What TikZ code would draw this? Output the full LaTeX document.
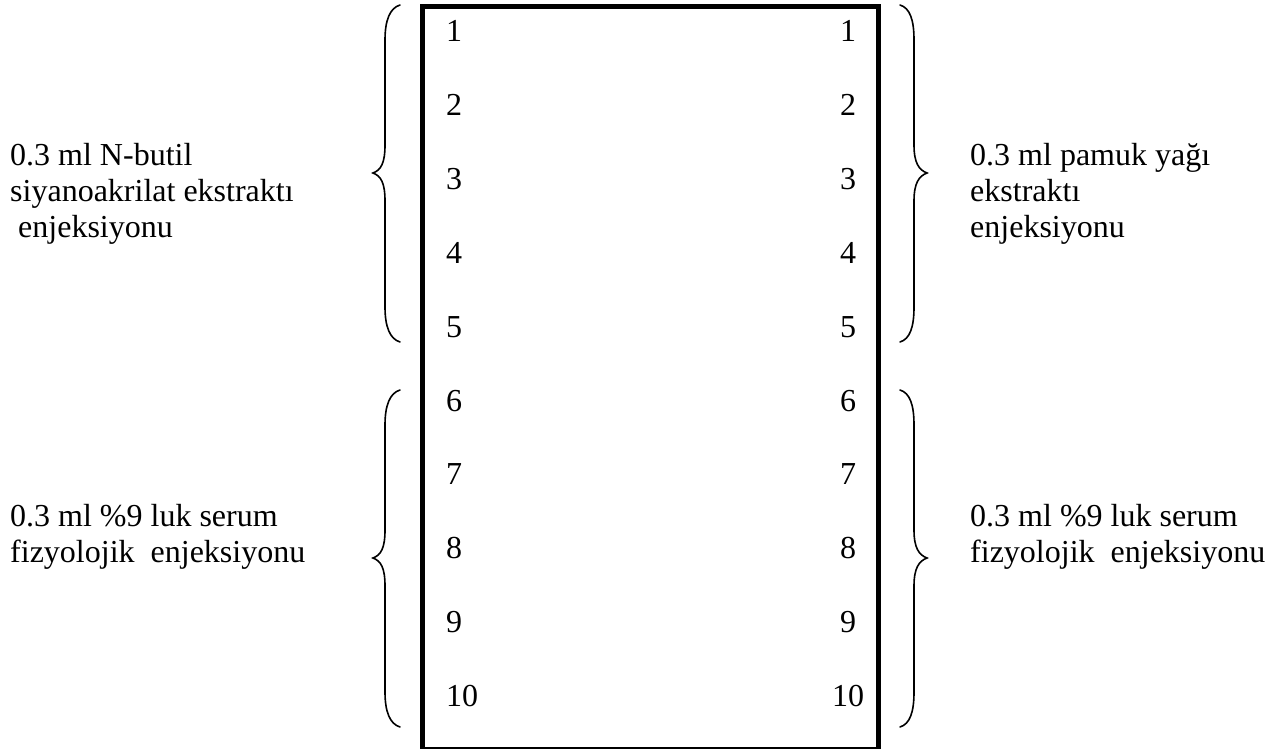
\documentclass[tikz,border=0pt]{standalone}
\usepackage{fontspec}
\setmainfont{Liberation Serif}
\begin{document}
\begin{tikzpicture}[x=1pt,y=-1pt,
  every node/.style={inner sep=0pt,font=\fontsize{32}{36}\selectfont},
  lbl/.style={anchor=base west,align=left},
  numl/.style={anchor=base west},
  numr/.style={anchor=base},
  frame/.style={line width=5.5pt},
  brace/.style={line width=1.6pt,line cap=round}]
\useasboundingbox (0,0) rectangle (1288,749);

% tray outline (open past the lower edge)
\coordinate (tl) at (422.5,6.5);
\coordinate (br) at (878.5,749.5);
\draw[frame] (tl) rectangle (br);

% numbered positions, two columns
\foreach \i in {1,...,10}{
  \node[numl] (L\i) at (446,{42+73.8*(\i-1)}) {\i};
  \node[numr] (R\i) at (848,{42+73.8*(\i-1)}) {\i};
}

% curly braces: #1 = top, #2 = middle tip, #3 = bottom
\newcommand{\leftcurly}[3]{%
  \draw[brace] (400,#1) .. controls (390,#1+3) and (385,#1+15) .. (385,#1+35)
    -- (385,#2-28) .. controls (385,#2-10) and (381,#2-3) .. (373,#2)
    .. controls (381,#2+3) and (385,#2+10) .. (385,#2+28)
    -- (385,#3-35) .. controls (385,#3-15) and (390,#3-3) .. (400,#3);}
\newcommand{\rightcurly}[3]{%
  \draw[brace] (900,#1) .. controls (910,#1+3) and (914,#1+15) .. (914,#1+35)
    -- (914,#2-28) .. controls (914,#2-10) and (919,#2-3) .. (927,#2)
    .. controls (919,#2+3) and (914,#2+10) .. (914,#2+28)
    -- (914,#3-35) .. controls (914,#3-15) and (910,#3-3) .. (900,#3);}
\leftcurly{5}{173}{342}
\leftcurly{390}{558}{727}
\rightcurly{5}{173}{342}
\rightcurly{390}{558}{727}

% group labels (anchored on the baseline of their last line)
\node[lbl] (lt) at (10,237) {0.3 ml N-butil\\siyanoakrilat ekstraktı\\\ enjeksiyonu};
\node[lbl] (lb) at (10,562) {0.3 ml \%9 luk serum\\fizyolojik\ \ enjeksiyonu};
\node[lbl] (rt) at (970,237) {0.3 ml pamuk yağı\\ekstraktı\\enjeksiyonu};
\node[lbl] (rb) at (970,562) {0.3 ml \%9 luk serum\\fizyolojik\ \ enjeksiyonu};
\end{tikzpicture}
\end{document}
